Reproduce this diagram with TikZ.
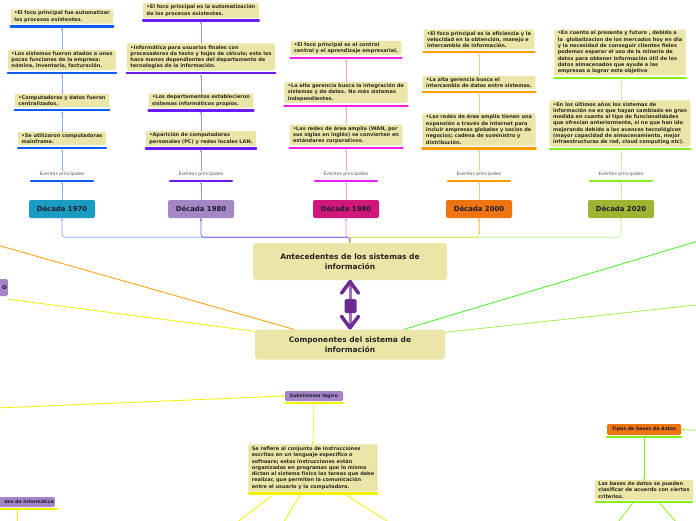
\documentclass[tikz,border=0pt]{standalone}
\usepackage{fontspec}
\setmainfont{Liberation Sans}
\newfontfamily\dejavu{DejaVu Sans}
\usetikzlibrary{arrows.meta}

\definecolor{caqui}{HTML}{EBE6A7}
\definecolor{tinta}{HTML}{2E2A20}
\definecolor{marron}{HTML}{2B2020}
\definecolor{oscuro}{HTML}{1C1C30}
\definecolor{gris}{HTML}{555555}
\definecolor{azul}{HTML}{0D5BF0}
\definecolor{violeta}{HTML}{6A1BF5}
\definecolor{magenta}{HTML}{F01CEF}
\definecolor{naranja}{HTML}{FF9A00}
\definecolor{verde}{HTML}{86F01A}
\definecolor{linA}{HTML}{88AAEE}
\definecolor{linB}{HTML}{AA88EE}
\definecolor{linC}{HTML}{F0A0F0}
\definecolor{linD}{HTML}{FFC880}
\definecolor{linE}{HTML}{C0F0A0}
\definecolor{busA}{HTML}{7AA6F0}
\definecolor{busB}{HTML}{7050F0}
\definecolor{busC}{HTML}{F080F0}
\definecolor{busD}{HTML}{C8E640}
\definecolor{busE}{HTML}{B8F088}
\definecolor{decA}{HTML}{1A9BC0}
\definecolor{decB}{HTML}{A386C3}
\definecolor{decC}{HTML}{D0177A}
\definecolor{decD}{HTML}{EE7410}
\definecolor{decE}{HTML}{9DB530}
\definecolor{lila}{HTML}{A585C8}
\definecolor{morado}{HTML}{6B2C91}
\definecolor{moradoC}{HTML}{A070C0}
\definecolor{amarillo}{HTML}{F2F200}
\definecolor{verdeV}{HTML}{44EE22}
\definecolor{verdeC}{HTML}{A8F050}

\tikzset{
  nota/.style={fill=caqui, rounded corners=1.2pt, align=left, inner xsep=3.5pt, inner ysep=1.6pt,
    font=\dejavu\bfseries\fontsize{5}{6.3}\selectfont, text=tinta},
  raya/.style={line width=2.2pt, line cap=round},
  enlace/.style={line width=0.6pt, -{Stealth[length=2.5pt,width=2.5pt]}},
  decada/.style={rounded corners=2pt, minimum width=66pt, minimum height=18pt,
    font=\dejavu\bfseries\fontsize{6.9}{8}\selectfont, text=oscuro},
  eventos/.style={inner sep=1pt, font=\dejavu\fontsize{4.6}{6}\selectfont, text=gris},
  principal/.style={fill=caqui, rounded corners=3pt, align=center,
    font=\dejavu\bfseries\fontsize{7.5}{10.5}\selectfont, text=marron},
  grupo/.style={fill=lila, rounded corners=1.5pt, inner sep=1pt,
    font=\dejavu\bfseries\fontsize{4.7}{6}\selectfont, text=oscuro},
  rama/.style={line width=0.8pt},
}

\begin{document}
\begin{tikzpicture}[x=1pt,y=-1pt]
  \useasboundingbox (0,0) rectangle (696,520);
  \fill[white] (0,0) rectangle (696,520);

  % Decada 1970
  \node[nota] (a1) at (62,16.5) {•El foco principal fue automatizar\\los procesos existentes.};
  \node[nota] (a2) at (62,60) {•Los sistemas fueron atados a unas\\pocas funciones de la empresa:\\nómina, inventario, facturación.};
  \node[nota] (a3) at (62,100.5) {•Computadoras y datos fueron\\centralizados.};
  \node[nota] (a4) at (62,138.5) {•Se utilizaron computadoras\\mainframe.};
  \node[eventos] (ea) at (62,174) {Eventos principales};
  \node[decada, fill=decA] (da) at (62,209) {Década 1970};
  \foreach \n in {a1,a2,a3,a4}
    \draw[raya, azul] ([yshift=-2.6pt]\n.south west) -- ([yshift=-2.6pt]\n.south east);
  \draw[raya, azul] ([xshift=-31pt,yshift=-7pt]ea.center) -- ([xshift=31pt,yshift=-7pt]ea.center);
  \draw[enlace, linA] (da.north) -- ([yshift=-8.2pt]ea.center);
  \draw[enlace, linA] (ea.north) -- ([yshift=-3.8pt]a4.south);
  \draw[enlace, linA] (a4.north) -- ([yshift=-3.8pt]a3.south);
  \draw[enlace, linA] (a3.north) -- ([yshift=-3.8pt]a2.south);
  \draw[enlace, linA] (a2.north) -- ([yshift=-3.8pt]a1.south);

  % Decada 1980
  \node[nota] (b1) at (201,10.5) {•El foco principal es la automatización\\de los procesos existentes.};
  \node[nota] (b2) at (201,57) {•Informática para usuarios finales con\\procesadores de texto y hojas de cálculo; esto los\\hace menos dependientes del departamento de\\tecnologías de la información.};
  \node[nota] (b3) at (201,100.5) {•Los departamentos establecieron\\sistemas informáticos propios.};
  \node[nota] (b4) at (201,138.5) {•Aparición de computadoras\\personales (PC) y redes locales LAN.};
  \node[eventos] (eb) at (201,174) {Eventos principales};
  \node[decada, fill=decB] (db) at (201,209) {Década 1980};
  \foreach \n in {b1,b2,b3,b4}
    \draw[raya, violeta] ([yshift=-2.6pt]\n.south west) -- ([yshift=-2.6pt]\n.south east);
  \draw[raya, violeta] ([xshift=-31pt,yshift=-7pt]eb.center) -- ([xshift=31pt,yshift=-7pt]eb.center);
  \draw[enlace, linB] (db.north) -- ([yshift=-8.2pt]eb.center);
  \draw[enlace, linB] (eb.north) -- ([yshift=-3.8pt]b4.south);
  \draw[enlace, linB] (b4.north) -- ([yshift=-3.8pt]b3.south);
  \draw[enlace, linB] (b3.north) -- ([yshift=-3.8pt]b2.south);
  \draw[enlace, linB] (b2.north) -- ([yshift=-3.8pt]b1.south);

  % Decada 1980 (segunda)
  \node[nota] (c1) at (346,48) {•El foco principal es el control\\central y el aprendizaje empresarial.};
  \node[nota] (c2) at (346,92.5) {•La alta gerencia busca la integración de\\sistemas y de datos. No más sistemas\\independientes.};
  \node[nota] (c3) at (346,135) {•Las redes de área amplia (WAN, por\\sus siglas en inglés) se convierten en\\estándares corporativos.};
  \node[eventos] (ec) at (346,174) {Eventos principales};
  \node[decada, fill=decC] (dc) at (346,209) {Década 1980};
  \foreach \n in {c1,c2,c3}
    \draw[raya, magenta] ([yshift=-2.6pt]\n.south west) -- ([yshift=-2.6pt]\n.south east);
  \draw[raya, magenta] ([xshift=-31pt,yshift=-7pt]ec.center) -- ([xshift=31pt,yshift=-7pt]ec.center);
  \draw[enlace, linC] (dc.north) -- ([yshift=-8.2pt]ec.center);
  \draw[enlace, linC] (ec.north) -- ([yshift=-3.8pt]c3.south);
  \draw[enlace, linC] (c3.north) -- ([yshift=-3.8pt]c2.south);
  \draw[enlace, linC] (c2.north) -- ([yshift=-3.8pt]c1.south);

  % Decada 2000
  \node[nota] (d1) at (479,39.5) {•El foco principal es la eficiencia y la\\velocidad en la obtención, manejo e\\intercambio de información.};
  \node[nota] (d2) at (479,82.5) {•La alta gerencia busca el\\intercambio de datos entre sistemas.};
  \node[nota] (d3) at (479,129.5) {•Las redes de área amplia tienen una\\expansión a través de Internet para\\incluir empresas globales y socios de\\negocios; cadena de suministro y\\distribución.};
  \node[eventos] (ed) at (479,174) {Eventos principales};
  \node[decada, fill=decD] (dd) at (479,209) {Década 2000};
  \foreach \n in {d1,d2,d3}
    \draw[raya, naranja] ([yshift=-2.6pt]\n.south west) -- ([yshift=-2.6pt]\n.south east);
  \draw[raya, naranja] ([xshift=-31pt,yshift=-7pt]ed.center) -- ([xshift=31pt,yshift=-7pt]ed.center);
  \draw[enlace, linD] (dd.north) -- ([yshift=-8.2pt]ed.center);
  \draw[enlace, linD] (ed.north) -- ([yshift=-3.8pt]d3.south);
  \draw[enlace, linD] (d3.north) -- ([yshift=-3.8pt]d2.south);
  \draw[enlace, linD] (d2.north) -- ([yshift=-3.8pt]d1.south);

  % Decada 2020
  \node[nota] (e1) at (620,52.5) {•En cuento al presente y futuro , debido a\\la\ \ globalizacion de los mercados hoy en dia\\y la necesidad de conseguir clientes fieles\\podemos esperar el uso de la minería de\\datos para obtener información útil de los\\datos almacenados que ayude a las\\empresas a lograr este objetivo};
  \node[nota] (e2) at (620,123.5) {•En los últimos años los sistemas de\\información no es que hayan cambiado en gran\\medida en cuanto al tipo de funcionalidades\\que ofrecían anteriormente, si no que han ido\\mejorando debido a los avances tecnológicos\\(mayor capacidad de almacenamiento, mejor\\infraestructuras de red, cloud computing etc).};
  \node[eventos] (ee) at (621,174) {Eventos principales};
  \node[decada, fill=decE] (de) at (621,209) {Década 2020};
  \foreach \n in {e1,e2}
    \draw[raya, verde] ([yshift=-2.6pt]\n.south west) -- ([yshift=-2.6pt]\n.south east);
  \draw[raya, verde] ([xshift=-31pt,yshift=-7pt]ee.center) -- ([xshift=31pt,yshift=-7pt]ee.center);
  \draw[enlace, linE] (de.north) -- ([yshift=-8.2pt]ee.center);
  \draw[enlace, linE] (ee.north) -- ([xshift=1pt,yshift=-3.8pt]e2.south);
  \draw[enlace, linE] ([xshift=1pt]e2.north) -- ([xshift=1pt,yshift=-3.8pt]e1.south);

  % nodos centrales
  \node[principal, minimum width=194pt, minimum height=37pt] (ante) at (350,261.5) {Antecedentes de los sistemas de\\información};
  \node[principal, minimum width=190pt, minimum height=30pt, text=black!85] (comp) at (350,344.5) {Componentes del sistema de\\información};

  \draw[enlace, busE, rounded corners=3pt] (ante.north) |- ([yshift=-19pt]de.south) -- (de.south);
  \draw[enlace, busD, rounded corners=3pt] (ante.north) |- ([yshift=-19pt]dd.south) -- (dd.south);
  \draw[enlace, linD] ([yshift=-16pt]dd.south) -- (dd.south);
  \draw[enlace, busA, rounded corners=3pt] (ante.north) |- ([yshift=-19pt]da.south) -- (da.south);
  \draw[enlace, busB, rounded corners=3pt] (ante.north) |- ([yshift=-19pt]db.south) -- (db.south);
  \draw[enlace, busC, rounded corners=2pt] (ante.north) |- ([yshift=-19pt]dc.south) -- (dc.south);
  \draw[line width=0.8pt, busD] (ante.north) -- ++(0,-6);

  % enlace doble
  \draw[line width=3pt, moradoC] (ante.south) -- (comp.north);
  \draw[line width=3.5pt, morado, line cap=round, line join=round]
    ([xshift=-8.5pt,yshift=-13pt]ante.south) -- ([yshift=-1.5pt]ante.south) -- ([xshift=8.5pt,yshift=-13pt]ante.south);
  \draw[line width=3.5pt, morado, line cap=round, line join=round]
    ([xshift=-8.5pt,yshift=13pt]comp.north) -- ([yshift=1.5pt]comp.north) -- ([xshift=8.5pt,yshift=13pt]comp.north);
  \node[fill=morado, rounded corners=1.5pt, minimum width=12pt, minimum height=14pt, inner sep=0pt] (medio) at (350.5,306) {};

  % ramas hacia fuera
  \coordinate (izqA) at (-10,243);
  \coordinate (izqB) at (-10,408.3);
  \coordinate (derA) at (710,237.5);
  \coordinate (derB) at (710,303.5);
  \coordinate (derC) at (710,431);
  \node[grupo, anchor=east, text width=52pt, align=right, minimum height=17pt,
    font=\dejavu\bfseries\fontsize{6.9}{8}\selectfont] (fisico) at (8,287.5) {o};
  \draw[rama, naranja] (izqA) -- ([xshift=39pt]comp.north west);
  \draw[rama, amarillo] ([yshift=-3pt]fisico.south east) -- ([yshift=-2pt]comp.north west);
  \draw[rama, verdeV] ([xshift=-41pt]comp.north east) -- (derA);
  \draw[rama, verdeC] ([yshift=-3pt]comp.north east) -- (derB);

  % subsistema logico
  \node[grupo, minimum width=58pt, minimum height=10pt] (logico) at (314,396) {Subsistema lógico};
  \draw[raya, amarillo, line width=2pt] ([yshift=-2pt]logico.south west) -- ([yshift=-2pt]logico.south east);
  \draw[rama, amarillo, -{Stealth[length=3pt,width=3pt]}] (izqB) -- (logico.west);
  \node[nota, inner ysep=2.2pt] (texto) at (313,468) {Se refiere al conjunto de instrucciones\\escritas en un lenguaje específico o\\software; estas instrucciones están\\organizadas en programas que lo mismo\\dictan al sistema físico las tareas que debe\\realizar, que permiten la comunicación\\entre el usuario y la computadora.};
  \draw[raya, amarillo, line width=2.8pt, line cap=butt] ([yshift=-2pt]texto.south west) -- ([yshift=-2pt]texto.south east);
  \draw[enlace, amarillo] ([yshift=-3pt]logico.south) -- (texto.north);
  \coordinate (bajoA) at (227,530);
  \coordinate (bajoB) at (279,530);
  \coordinate (bajoC) at (401,530);
  \draw[rama, amarillo] ([xshift=25pt,yshift=-3pt]texto.south west) -- (bajoA);
  \draw[rama, amarillo] ([xshift=52pt,yshift=-3pt]texto.south west) -- (bajoB);
  \draw[rama, amarillo] ([xshift=-32pt,yshift=-3pt]texto.south east) -- (bajoC);

  % tipos de bases de datos
  \node[grupo, fill=decD, minimum width=74pt, minimum height=11pt] (tipos) at (644,429.5) {Tipos de bases de datos};
  \draw[raya, verde, line width=2pt] ([yshift=-2pt]tipos.south west) -- ([yshift=-2pt]tipos.south east);
  \draw[rama, verdeC, -{Stealth[length=3pt,width=3pt]}] (derC) -- (tipos.east);
  \node[nota] (bases) at (644,490) {Las bases de datos se pueden\\clasificar de acuerdo con ciertos\\criterios.};
  \draw[raya, verde, line width=2.5pt, line cap=butt] ([yshift=-2pt]bases.south west) -- ([yshift=-2pt]bases.south east);
  \draw[enlace, verde] ([yshift=-3pt]tipos.south) -- (bases.north);
  \coordinate (bajoD) at (612,530);
  \coordinate (bajoE) at (683,530);
  \draw[rama, verde] ([xshift=38pt,yshift=-3pt]bases.south west) -- (bajoD);
  \draw[rama, verde] ([xshift=65pt,yshift=-3pt]bases.south west) -- (bajoE);

  % recorte inferior izquierdo
  \node[grupo, anchor=east, text width=60pt, align=right, minimum height=10pt] (informatica) at (55,502) {dos de informática};
  \draw[raya, amarillo, line width=2pt] ([yshift=-2pt]informatica.south west) -- ([xshift=2pt,yshift=-2pt]informatica.south east);
  \coordinate (bajoF) at (17,530);
  \draw[rama, amarillo] ([yshift=-3pt]informatica.south -| bajoF) -- (bajoF);
\end{tikzpicture}
\end{document}
